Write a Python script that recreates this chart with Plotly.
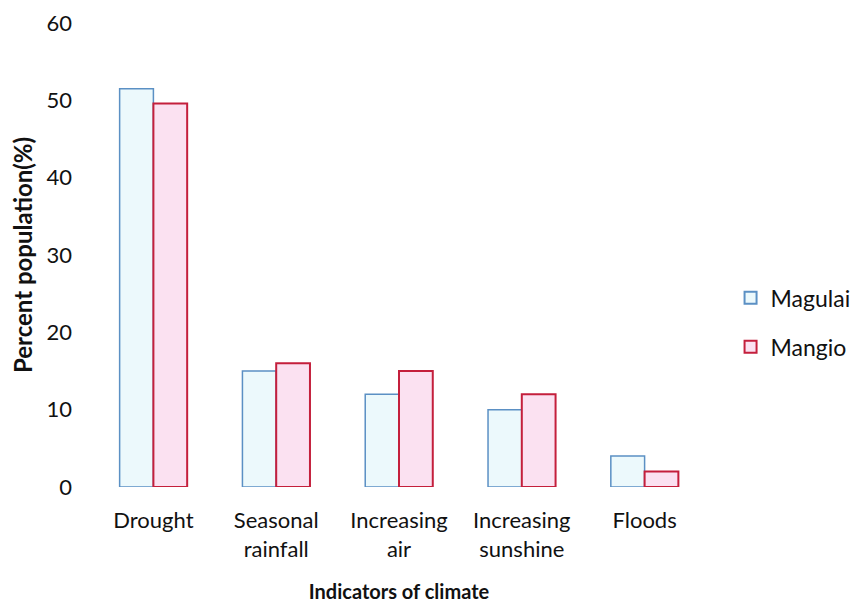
import plotly.graph_objects as go

categories = ["Drought", "Seasonal<br>rainfall", "Increasing<br>air", "Increasing<br>sunshine", "Floods"]
magulai = [51.5, 15, 12, 10, 4]
mangio = [49.6, 16, 15, 12, 2]
y_ticks = [0, 10, 20, 30, 40, 50, 60]

font_family = "Lato, 'Liberation Sans', sans-serif"

fig = go.Figure()
fig.add_trace(go.Bar(
    x=categories, y=magulai, name="Magulai", legendgroup="a",
    marker=dict(color="#ecf9fc", line=dict(color="#5b90c4", width=1.5)),
))
fig.add_trace(go.Bar(
    x=categories, y=mangio, name="Mangio", legendgroup="b",
    marker=dict(color="#fbe1f1", line=dict(color="#c41f3c", width=2)),
))

fig.update_layout(
    width=860, height=606,
    paper_bgcolor="white", plot_bgcolor="white",
    margin=dict(l=84, r=162, t=15, b=127),
    barmode="group", bargap=0.45, bargroupgap=0,
    font=dict(family=font_family, size=22, color="#111111"),
    legend=dict(x=1.04, y=0.355, xanchor="left", yanchor="middle",
                font=dict(size=23), itemsizing="constant",
                tracegroupgap=16, traceorder="grouped"),
    showlegend=True,
)
fig.update_xaxes(
    showgrid=False, showline=False, ticks="", zeroline=False,
    tickfont=dict(size=22), ticklabelstandoff=18, automargin=False,
    title=dict(text="<b>Indicators of climate</b>", font=dict(size=20), standoff=24),
)
fig.update_yaxes(
    range=[0, 60], tickvals=y_ticks, showgrid=False, showline=False,
    zeroline=False, ticks="", tickfont=dict(size=22), ticklabelstandoff=19,
    ticklabeloverflow="allow", automargin=False,
    title=dict(text="<b>Percent population(%)</b>", font=dict(size=24), standoff=8),
)

fig.write_html("out.html")
